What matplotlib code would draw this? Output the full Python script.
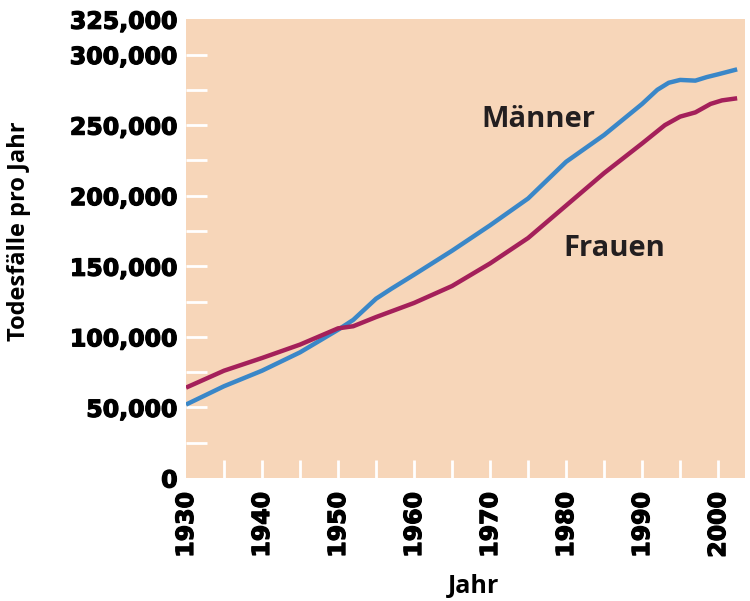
import matplotlib.pyplot as plt
import matplotlib as mpl
import matplotlib.patheffects as pe

mpl.rcParams['font.family'] = ['Open Sans', 'DejaVu Sans']
mpl.rcParams['font.weight'] = 'bold'

# Data
years_m = [1930, 1935, 1940, 1945, 1950, 1952, 1955, 1957, 1960, 1965, 1970,
           1975, 1980, 1985, 1990, 1992, 1993.5, 1995, 1997, 1998.5, 2000, 2002.5]
maenner = [52000, 65000, 76000, 89000, 105000, 112000, 127000, 134000, 144000,
           161000, 179000, 198000, 224000, 243000, 265000, 275000, 280000,
           282000, 281500, 284000, 286000, 289500]

years_f = [1930, 1935, 1940, 1945, 1950, 1952, 1955, 1960, 1965, 1970, 1975,
           1980, 1985, 1990, 1993, 1995, 1997, 1999, 2000.5, 2002.5]
frauen = [64000, 76000, 85000, 94500, 106000, 107500, 114000, 124000, 136000,
          152000, 170000, 193000, 216000, 237000, 250000, 256000, 259000,
          265000, 267500, 269000]

y_major = [0, 50000, 100000, 150000, 200000, 250000, 300000, 325000]
x_major = [1930, 1940, 1950, 1960, 1970, 1980, 1990, 2000]

fig = plt.figure(figsize=(7.5, 6.01), dpi=100)
ax = fig.add_axes([0.248, 0.2047, 0.745, 0.7633])
ax.set_facecolor('#f7d6b9')

ax.plot(years_m, maenner, color='#3a87c8', lw=3.2, solid_capstyle='butt')
ax.plot(years_f, frauen, color='#a4205a', lw=3.2, solid_capstyle='butt')

ax.set_xlim(1930, 2003.5)
ax.set_ylim(0, 325000)
for s in ax.spines.values():
    s.set_visible(False)

ax.set_yticks(y_major)
ax.set_yticklabels([f'{v:,}' for v in y_major])
ax.set_yticks(range(25000, 325000, 50000), minor=True)
ax.set_xticks(x_major)
ax.set_xticklabels([str(v) for v in x_major], rotation=90)
ax.set_xticks(range(1935, 2005, 10), minor=True)

ax.tick_params(axis='y', which='both', direction='in', length=15, width=2,
               color='white', pad=6)
ax.tick_params(axis='x', which='both', direction='in', length=13, width=2,
               color='white', pad=10)
# no tick marks on the corners
ax.yaxis.get_major_ticks()[0].tick1line.set_visible(False)
ax.yaxis.get_major_ticks()[-1].tick1line.set_visible(False)
ax.xaxis.get_major_ticks()[0].tick1line.set_visible(False)

heavy = [pe.withStroke(linewidth=0.9, foreground='black')]
for lab in ax.get_xticklabels() + ax.get_yticklabels():
    lab.set_fontfamily('DejaVu Sans')
    lab.set_fontweight('bold')
    lab.set_fontsize(17)
    lab.set_path_effects(heavy)

ax.text(1968.9, 249000, 'Männer', fontsize=21, fontweight='bold',
        color='#231f20', va='baseline')
ax.text(1979.6, 157000, 'Frauen', fontsize=21, fontweight='bold',
        color='#231f20', va='baseline')

fig.text(0.026, 0.616, 'Todesfälle pro Jahr', rotation=90, ha='center',
         va='center', fontsize=17, fontweight='bold')
fig.text(0.631, 0.013, 'Jahr', ha='center', va='baseline', fontsize=18,
         fontweight='bold')

plt.savefig('out.png', dpi=100)
